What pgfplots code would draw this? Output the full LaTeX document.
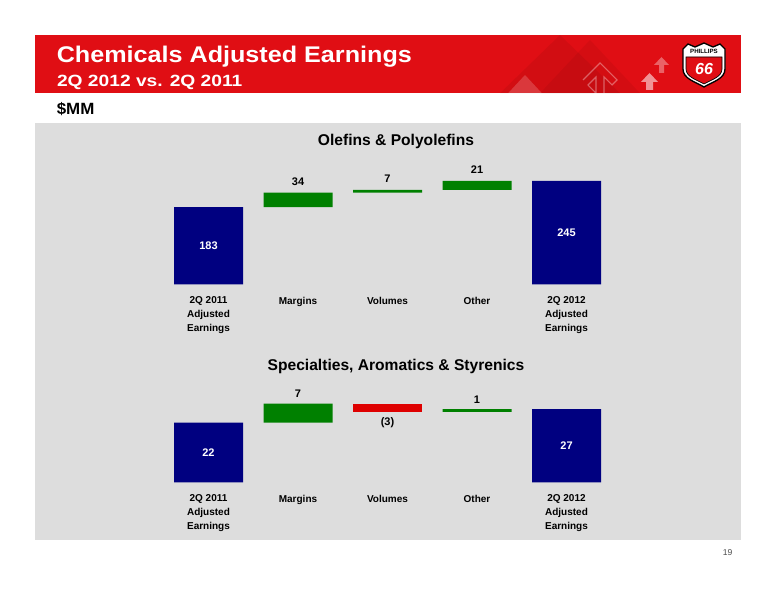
\documentclass[border=0pt]{standalone}
\usepackage{fontspec}
\setmainfont{Liberation Sans}
\newfontfamily\titlefont[FakeStretch=1.11]{Liberation Sans}
\newfontfamily\subfont[FakeStretch=1.18]{Liberation Sans}
\newfontfamily\mmfont[FakeStretch=1.04]{Liberation Sans}
\usepackage{pgfplots}
\usepackage{pgfplotstable}
\pgfplotsset{compat=1.18}
\definecolor{hdrred}{RGB}{224,14,20}
\definecolor{panel}{RGB}{221,221,221}
\definecolor{navy}{RGB}{0,0,128}
\definecolor{wgreen}{RGB}{0,128,0}
\definecolor{wred}{RGB}{222,0,0}
\newcommand\lbl{\fontsize{8.25}{9}\selectfont\bfseries}
\newcommand\ttl{\fontsize{11.7}{14}\selectfont\bfseries}

% columns: x position, invisible base, total bar, increase, decrease
\pgfplotstableread{
x base total up down
0 0   183 0  0
1 183 0   34 0
2 217 0   7  0
3 224 0   21 0
4 0   245 0  0
}\olefins
\pgfplotstableread{
x base total up down
0 0  22 0 0
1 22 0  7 0
2 26 0  0 3
3 26 0  1 0
4 0  27 0 0
}\specialties

\pgfplotsset{
  wf/.style={
    scale only axis,
    width=349.05pt,
    xmin=-0.6, xmax=4.6, ymin=0,
    ybar stacked,
    bar width=51.75pt,
    axis line style={draw=none},
    xtick style={draw=none},
    ytick=\empty,
    xtick={0,1,2,3,4},
    xticklabels={{2Q 2011\\Adjusted\\Earnings},Margins,Volumes,Other,{2Q 2012\\Adjusted\\Earnings}},
    xticklabel style={font=\fontsize{7.5}{10.5}\selectfont\bfseries, align=center, anchor=north, yshift=-6pt},
    clip=false,
  }
}

\begin{document}
\begin{tikzpicture}
\begin{scope}[x=0.75pt,y=0.75pt]
\useasboundingbox (0,0) rectangle (776,600);
\fill[white] (0,0) rectangle (776,600);
% header banner
\fill[hdrred] (35,565) rectangle (741,506.7);
\fill[black,opacity=0.06] (500,506.7) -- (560,565) -- (620,506.7) -- cycle;
\fill[black,opacity=0.05] (540,506.7) -- (590,560) -- (640,506.7) -- cycle;
\fill[white,opacity=0.18] (508,506.7) -- (525,525) -- (542,506.7) -- cycle;
\draw[white,opacity=0.35,line width=0.8pt] (583,520) -- (600,537) -- (617,520) -- (612,515) -- (604,523) -- (604,506.7)
  (596,506.7) -- (596,523) -- (588,515) -- cycle;
\fill[white,opacity=0.55] (641,518) -- (649.5,527) -- (658,518) -- (653,518) -- (653,510) -- (646,510) -- (646,518) -- cycle;
\fill[white,opacity=0.35] (654,535) -- (661.5,543) -- (669,535) -- (664,535) -- (664,527) -- (659,527) -- (659,535) -- cycle;
% logo
\filldraw[fill=white,draw=black,line width=1pt]
  (683,551) -- (688,556) -- (695,553) -- (704,557) -- (713,553) -- (720,556) -- (725,551)
  -- (725,531) .. controls (725,521) and (712,518) .. (704,513)
  .. controls (696,518) and (683,521) .. (683,531) -- cycle;
\filldraw[fill=hdrred,draw=black,line width=0.5pt]
  (686,543) -- (722,543) -- (722,531) .. controls (722,523) and (711,520) .. (704,516)
  .. controls (697,520) and (686,523) .. (686,531) -- cycle;
\node[font=\fontsize{4.6}{5}\selectfont\bfseries,inner sep=0pt] at (704,548.5) {PHILLIPS};
\node[font=\fontsize{12}{12}\selectfont\bfseries\itshape,text=white,inner sep=0pt] at (704,531) {66};
% header text
\node[anchor=base west,inner sep=0pt,text=white,font=\titlefont\fontsize{17}{20}\selectfont\bfseries] at (56.5,537.3) {Chemicals Adjusted Earnings};
\node[anchor=base west,inner sep=0pt,text=white,font=\subfont\fontsize{12.2}{14}\selectfont\bfseries] at (56.8,513.3) {2Q 2012 vs. 2Q 2011};
\node[anchor=base west,inner sep=0pt,font=\mmfont\fontsize{12.2}{14}\selectfont\bfseries] at (56.5,485.7) {\$MM};
% panel
\fill[panel] (35,477.3) rectangle (741,60);
\node[font=\fontsize{6.4}{8}\selectfont,text=black!70] at (727.7,47.3) {19};
% titles
\node[font=\ttl] at (396,459) {Olefins \& Polyolefins};
\node[font=\ttl] at (396,234) {Specialties, Aromatics \& Styrenics};
\end{scope}

% top waterfall
\begin{axis}[wf, at={(116.1pt,236.775pt)}, anchor=south west, height=82.29pt, ymax=260]
\addplot[draw=none,fill=none] table[x=x,y=base]{\olefins};
\addplot[draw=none,fill=navy] table[x=x,y=total]{\olefins};
\addplot[draw=none,fill=wgreen] table[x=x,y=up]{\olefins};
\addplot[draw=none,fill=wred] table[x=x,y=down]{\olefins};
\coordinate (a0) at (axis cs:0,91.5);
\coordinate (a4) at (axis cs:4,122.5);
\coordinate (a1) at (axis cs:1,217);
\coordinate (a2) at (axis cs:2,224);
\coordinate (a3) at (axis cs:3,245);
\end{axis}
\node[font=\lbl,text=white] at (a0) {183};
\node[font=\lbl,text=white] at (a4) {245};
\node[font=\lbl,yshift=8.25pt] at (a1) {34};
\node[font=\lbl,yshift=8.25pt] at (a2) {7};
\node[font=\lbl,yshift=8.25pt] at (a3) {21};

% bottom waterfall
\begin{axis}[wf, at={(116.1pt,88.275pt)}, anchor=south west, height=65.04pt, ymax=32]
\addplot[draw=none,fill=none] table[x=x,y=base]{\specialties};
\addplot[draw=none,fill=navy] table[x=x,y=total]{\specialties};
\addplot[draw=none,fill=wgreen] table[x=x,y=up]{\specialties};
\addplot[draw=none,fill=wred] table[x=x,y=down]{\specialties};
\coordinate (b0) at (axis cs:0,11);
\coordinate (b4) at (axis cs:4,13.5);
\coordinate (b1) at (axis cs:1,29);
\coordinate (b2) at (axis cs:2,26);
\coordinate (b3) at (axis cs:3,27);
\end{axis}
\node[font=\lbl,text=white] at (b0) {22};
\node[font=\lbl,text=white] at (b4) {27};
\node[font=\lbl,yshift=7.3pt] at (b1) {7};
\node[font=\lbl,yshift=-7.9pt] at (b2) {(3)};
\node[font=\lbl,yshift=6.8pt] at (b3) {1};
\end{tikzpicture}
\end{document}
